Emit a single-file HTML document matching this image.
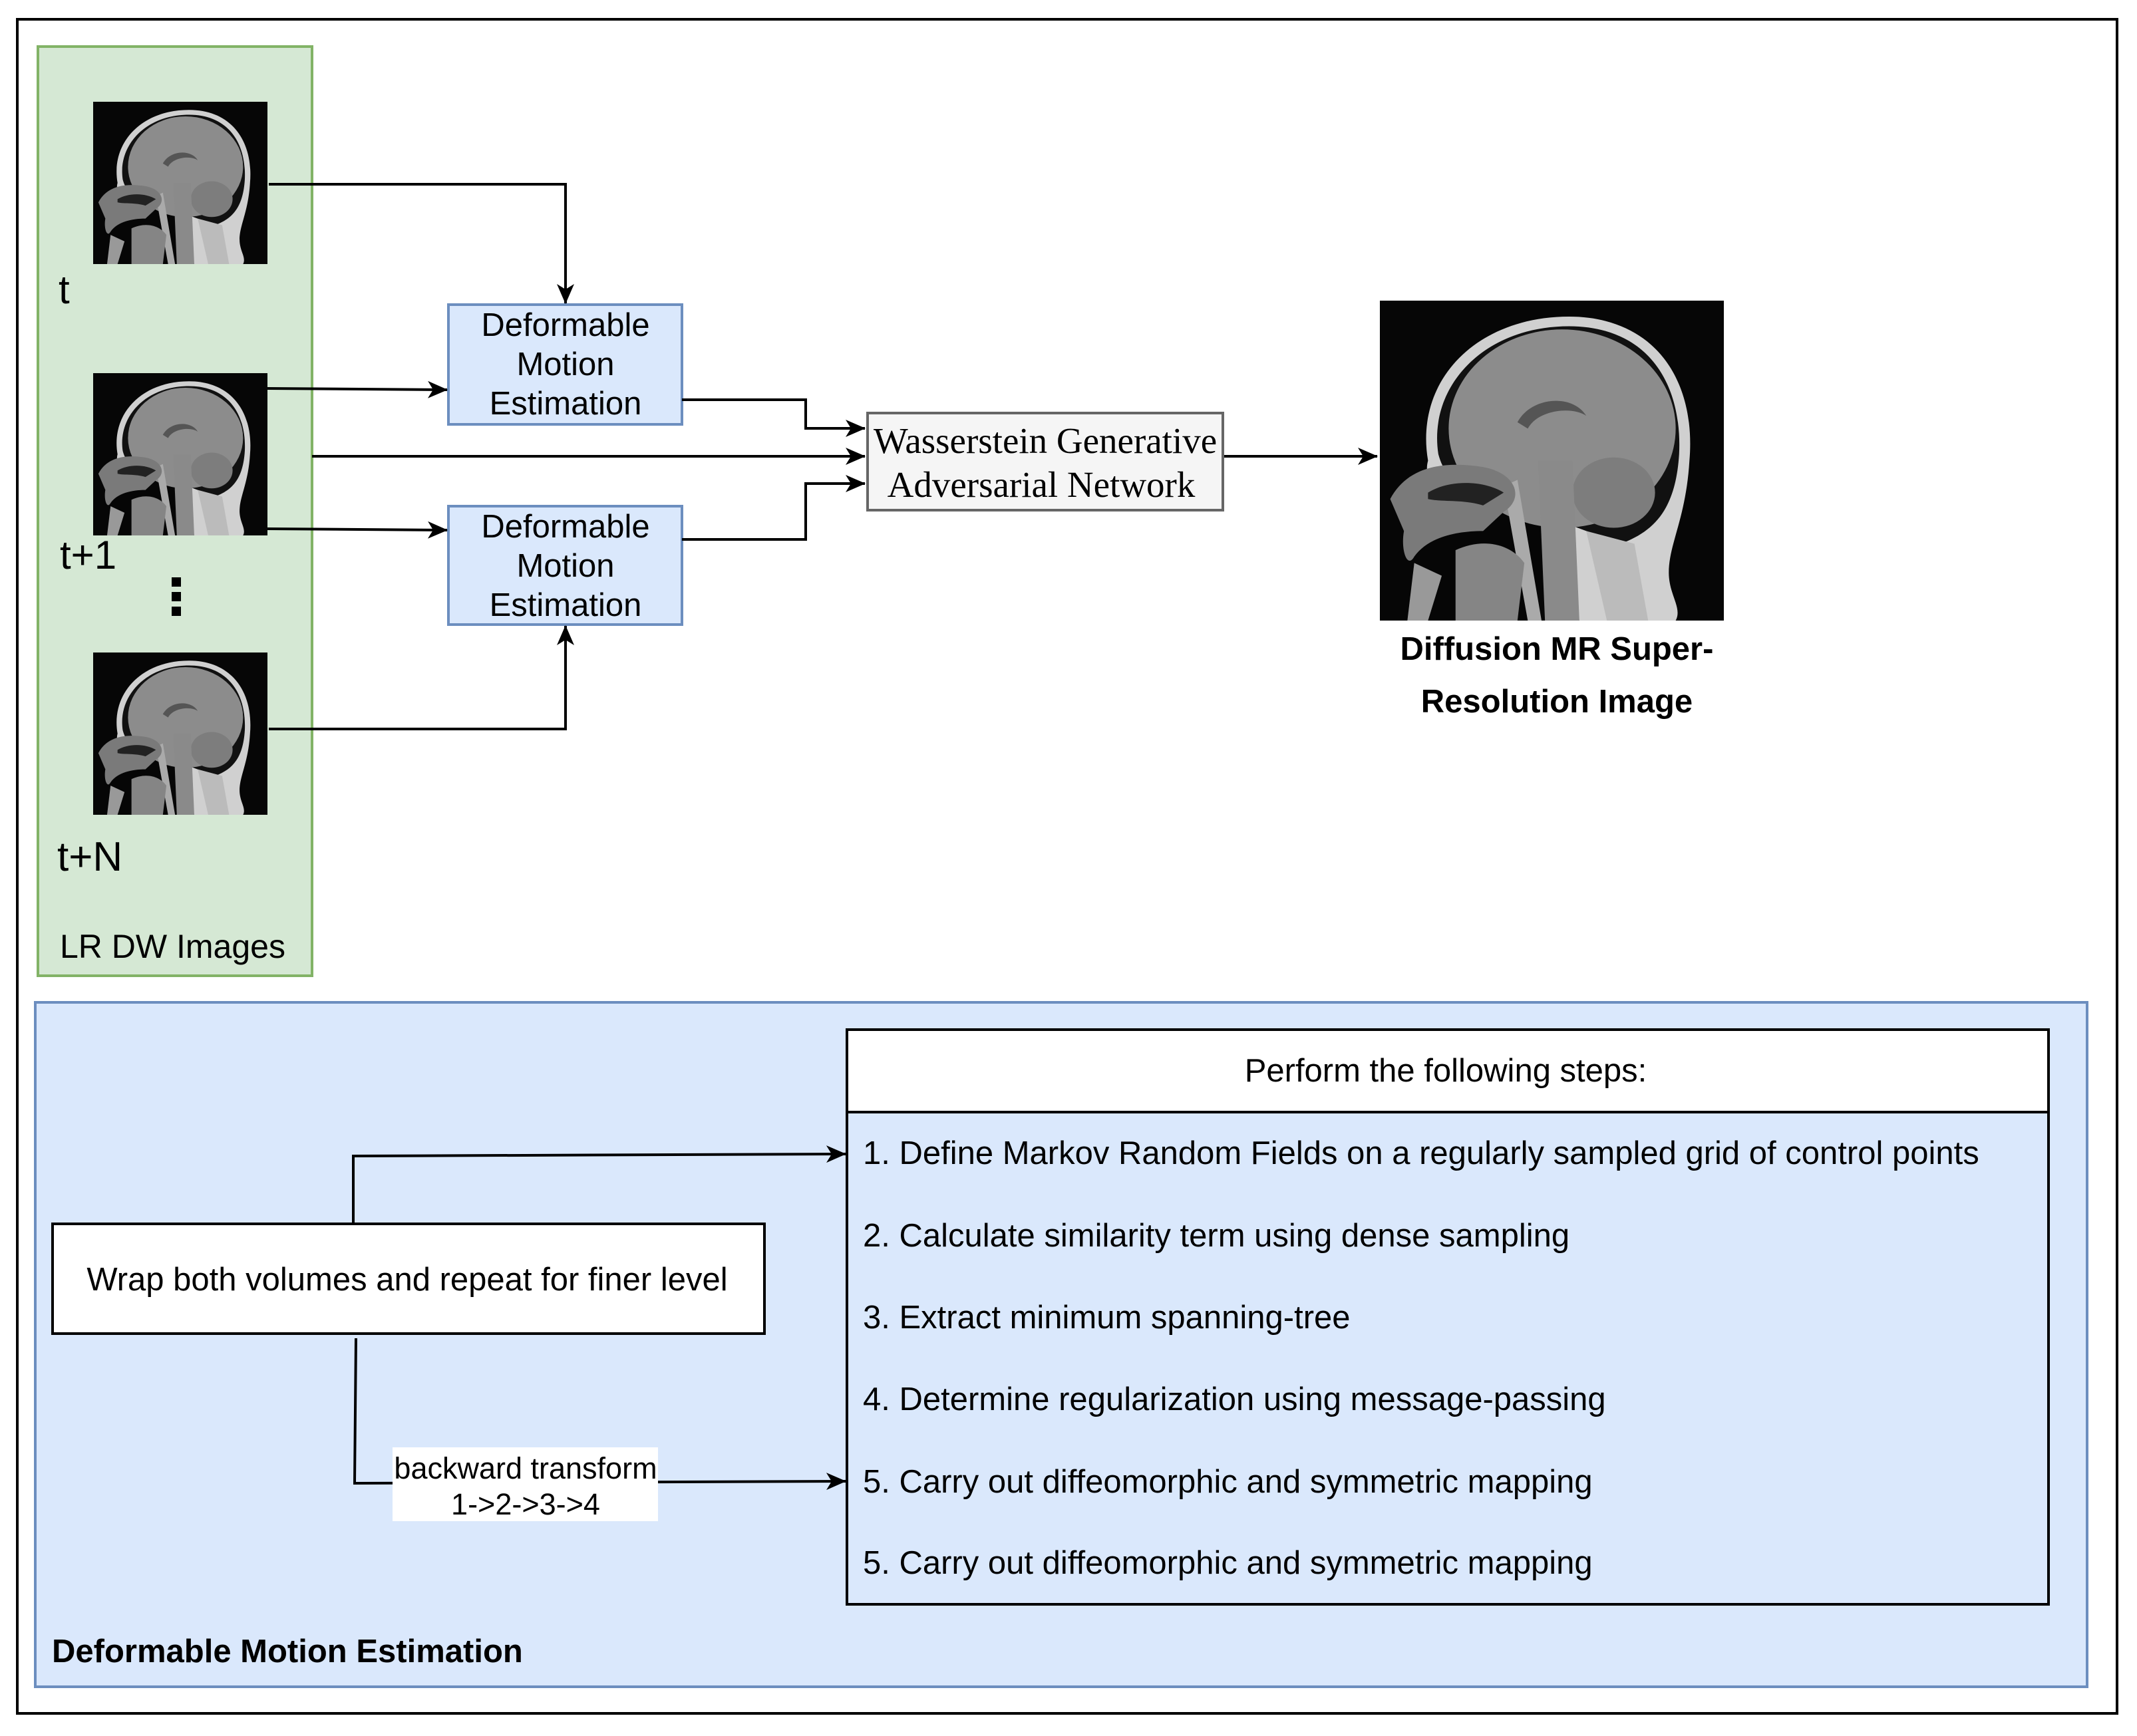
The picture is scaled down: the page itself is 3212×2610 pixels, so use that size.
<!DOCTYPE html>
<html><head><meta charset="utf-8"><style>
html,body{margin:0;padding:0;background:#fff;}
svg{display:block;}
text{font-family:"Liberation Sans",Arial,sans-serif;fill:#000;}
</style></head><body>
<svg width="3212" height="2610" viewBox="0 0 3212 2610" xmlns="http://www.w3.org/2000/svg">
<defs>
<marker id="ah" viewBox="0 0 30 26" refX="29" refY="13" markerWidth="30" markerHeight="26" markerUnits="userSpaceOnUse" orient="auto">
<path d="M0,0 L30,13 L0,26 L8,13 Z" fill="#000"/>
</marker>
<symbol id="brain" viewBox="0 0 100 100" preserveAspectRatio="none">
<rect x="0" y="0" width="100" height="100" fill="#060606"/>
<path d="M14,50 C10,25 28,5 55,5 C80,5 92,25 90,50 C89,68 84,76 84,85 C84,92 88,96 86,100 L58,100 L50,70 L30,62 C20,60 12,58 14,50 Z" fill="#d0d0d0"/>
<path d="M17,48 C14,27 30,8 55,8 C78,8 88,26 87,48 C86,65 80,72 70,76 L45,66 C30,62 20,60 17,48 Z" fill="#111"/>
<ellipse cx="53" cy="40" rx="33" ry="31" fill="#8c8c8c"/>
<path d="M40,38 C44,30 56,29 60,36 C56,33 46,34 43,40 Z" fill="#555"/>
<ellipse cx="68" cy="60" rx="12" ry="11" fill="#7d7d7d"/>
<path d="M46,50 L56,50 L58,100 L48,100 Z" fill="#8a8a8a"/>
<path d="M40,56 L47,100 L43,100 L36,58 Z" fill="#aaa"/>
<path d="M60,72 L66,100 L78,100 L74,76 Z" fill="#bbb"/>
<path d="M3,62 C8,52 18,50 30,52 C40,54 42,62 36,66 L30,72 C22,72 14,74 10,80 C8,84 6,78 7,72 Z" fill="#7a7a7a"/>
<path d="M14,60 C20,56 30,56 36,60 L30,64 C24,62 18,63 14,62 Z" fill="#222"/>
<path d="M22,78 C30,74 38,76 42,82 L40,100 L22,100 Z" fill="#858585"/>
<path d="M10,82 L18,86 L14,100 L8,100 Z" fill="#999"/>
</symbol>
</defs>

<rect x="26" y="29" width="3156" height="2547" fill="none" stroke="#000" stroke-width="4"/>

<rect x="57" y="70" width="412" height="1397" fill="#d5e8d4" stroke="#82b366" stroke-width="4"/>
<use href="#brain" x="140" y="153" width="262" height="244"/>
<use href="#brain" x="140" y="561" width="262" height="244"/>
<use href="#brain" x="140" y="981" width="262" height="244"/>
<text x="88" y="456" font-size="60">t</text>
<text x="90" y="855" font-size="60">t+1</text>
<rect x="258" y="868" width="14" height="14" fill="#000"/>
<rect x="258" y="890" width="14" height="14" fill="#000"/>
<rect x="258" y="912" width="14" height="14" fill="#000"/>
<text x="86" y="1309" font-size="62">t+N</text>
<text x="90" y="1440" font-size="50">LR DW Images</text>

<rect x="674" y="458" width="351" height="180" fill="#dae8fc" stroke="#6c8ebf" stroke-width="4"/>
<text x="850" y="505" font-size="49" text-anchor="middle">Deformable</text>
<text x="850" y="564" font-size="49" text-anchor="middle">Motion</text>
<text x="850" y="623" font-size="49" text-anchor="middle">Estimation</text>
<rect x="674" y="761" width="351" height="178" fill="#dae8fc" stroke="#6c8ebf" stroke-width="4"/>
<text x="850" y="808" font-size="49" text-anchor="middle">Deformable</text>
<text x="850" y="867" font-size="49" text-anchor="middle">Motion</text>
<text x="850" y="926" font-size="49" text-anchor="middle">Estimation</text>

<g fill="none" stroke="#000" stroke-width="4">
<path d="M404,277 L850,277 L850,456" marker-end="url(#ah)"/>
<path d="M402,584 L672,586" marker-end="url(#ah)"/>
<path d="M402,795 L672,797" marker-end="url(#ah)"/>
<path d="M404,1096 L850,1096 L850,941" marker-end="url(#ah)"/>
<path d="M1025,601 L1211,601 L1211,644 L1300,644" marker-end="url(#ah)"/>
<path d="M469,686 L1300,686" marker-end="url(#ah)"/>
<path d="M1025,811 L1211,811 L1211,727 L1300,727" marker-end="url(#ah)"/>
<path d="M1838,686 L2070,686" marker-end="url(#ah)"/>
</g>

<rect x="1304" y="621" width="534" height="146" fill="#f5f5f5" stroke="#666" stroke-width="4"/>
<text x="1571" y="681" font-size="55" text-anchor="middle" style="font-family:'Liberation Serif',serif" fill="#333">Wasserstein Generative</text>
<text x="1565" y="747" font-size="55" text-anchor="middle" style="font-family:'Liberation Serif',serif" fill="#333">Adversarial Network</text>

<use href="#brain" x="2074" y="452" width="517" height="481"/>
<text x="2340" y="992" font-size="49" font-weight="bold" text-anchor="middle">Diffusion MR Super-</text>
<text x="2340" y="1071" font-size="49" font-weight="bold" text-anchor="middle">Resolution Image</text>

<rect x="53" y="1507" width="3084" height="1029" fill="#dae8fc" stroke="#6c8ebf" stroke-width="4"/>
<rect x="79" y="1840" width="1070" height="165" fill="#fff" stroke="#000" stroke-width="4"/>
<text x="612" y="1940" font-size="49" text-anchor="middle">Wrap both volumes and repeat for finer level</text>

<rect x="1273" y="1548" width="1806" height="864" fill="#dae8fc" stroke="#000" stroke-width="4"/>
<rect x="1273" y="1548" width="1806" height="124" fill="#fff" stroke="#000" stroke-width="4"/>
<text x="2173" y="1626" font-size="49" text-anchor="middle">Perform the following steps:</text>
<text x="1297" y="1750" font-size="49">1. Define Markov Random Fields on a regularly sampled grid of control points</text>
<text x="1297" y="1874" font-size="49">2. Calculate similarity term using dense sampling</text>
<text x="1297" y="1997" font-size="49">3. Extract minimum spanning-tree</text>
<text x="1297" y="2120" font-size="49">4. Determine regularization using message-passing</text>
<text x="1297" y="2244" font-size="49">5. Carry out diffeomorphic and symmetric mapping</text>
<text x="1297" y="2366" font-size="49">5. Carry out diffeomorphic and symmetric mapping</text>

<g fill="none" stroke="#000" stroke-width="4">
<path d="M531,1840 L531,1738 L1271,1735" marker-end="url(#ah)"/>
<path d="M535,2012 L533,2230 L1271,2227" marker-end="url(#ah)"/>
</g>
<rect x="590" y="2176" width="399" height="111" fill="#fff"/>
<text x="790" y="2223" font-size="45" text-anchor="middle">backward transform</text>
<text x="790" y="2277" font-size="45" text-anchor="middle">1-&gt;2-&gt;3-&gt;4</text>

<text x="78" y="2499" font-size="49" font-weight="bold">Deformable Motion Estimation</text>
</svg>
</body></html>
